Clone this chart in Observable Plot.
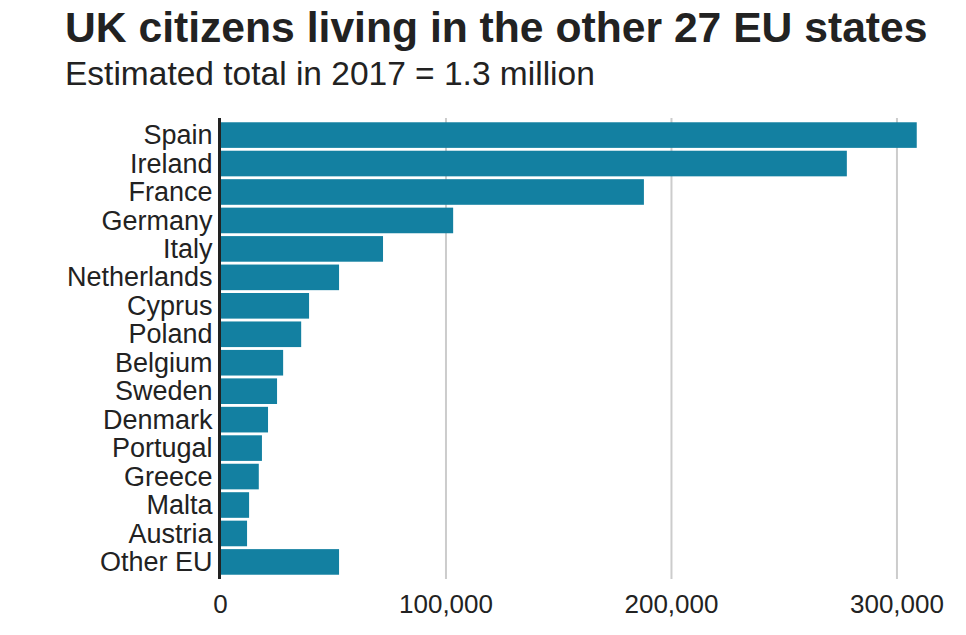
<!DOCTYPE html>
<html>
<head>
<meta charset="utf-8">
<script src="https://cdn.jsdelivr.net/npm/d3@7"></script>
<script src="https://cdn.jsdelivr.net/npm/@observablehq/plot@0.6"></script>
<style>
  html, body { margin: 0; padding: 0; background: #fff; }
  body { width: 966px; height: 635px; position: relative; overflow: hidden; font-family: "Liberation Sans", Arial, Helvetica, sans-serif; color: #222; }
  #title { position: absolute; left: 65px; top: 6px; font-size: 42.65px; line-height: 42px; font-weight: bold; white-space: nowrap; }
  #subtitle { position: absolute; left: 65px; top: 57px; font-size: 33.5px; line-height: 33px; white-space: nowrap; }
  #chart { position: absolute; left: 0; top: 105px; }
</style>
</head>
<body>
<div id="title">UK citizens living in the other 27 EU states</div>
<div id="subtitle">Estimated total in 2017 = 1.3 million</div>
<div id="chart"></div>
<script>
const countries = ["Spain","Ireland","France","Germany","Italy","Netherlands","Cyprus","Poland","Belgium","Sweden","Denmark","Portugal","Greece","Malta","Austria","Other EU"];
const values = [309000, 278000, 188000, 103400, 72300, 52800, 39500, 36000, 28000, 25300, 21300, 18600, 17200, 12900, 12000, 52800];
const xTicks = [0, 100000, 200000, 300000];
const gridTicks = [100000, 200000, 300000];

const data = countries.map((c, i) => ({country: c, value: values[i]}));

const chart = Plot.plot({
  width: 966,
  height: 530,
  marginTop: 13,
  marginBottom: 56,
  marginLeft: 220,
  marginRight: 47,
  style: {fontFamily: '"Liberation Sans", Arial, Helvetica, sans-serif', fontSize: "27px", color: "#222", background: "transparent"},
  x: {domain: [0, 310000], axis: null},
  y: {domain: countries, paddingInner: 0.1, paddingOuter: 0.15, round: false, axis: null},
  marks: [
    Plot.ruleX(gridTicks, {stroke: "#cccccc", strokeWidth: 2}),
    Plot.barX(data, {y: "country", x: "value", fill: "#1380A1"}),
    Plot.ruleX([0], {stroke: "#222", strokeWidth: 3, dx: -1}),
    Plot.axisY({tickSize: 0, tickPadding: 8, fontSize: 27, label: null}),
    Plot.axisX({ticks: xTicks, tickSize: 0, tickPadding: 15, tickFormat: d3.format(","), fontSize: 26, label: null})
  ]
});
document.getElementById("chart").appendChild(chart);
</script>
</body>
</html>
